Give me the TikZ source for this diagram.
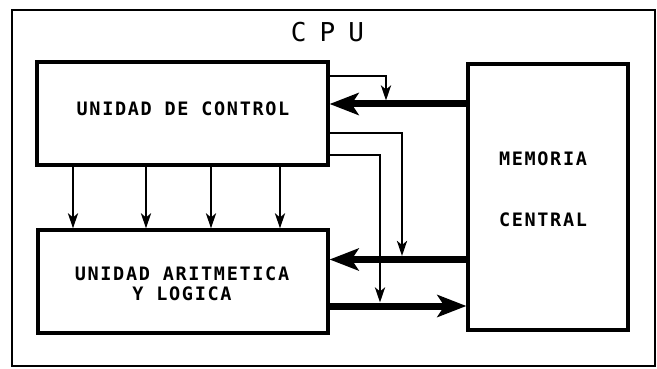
\documentclass[tikz,border=0pt]{standalone}
\usepackage{fontspec}
\usetikzlibrary{arrows.meta}
\newfontfamily\lblfont{DejaVu Sans Mono}[LetterSpace=9]
\newfontfamily\cpufont{DejaVu Sans Mono}[LetterSpace=-10]
\begin{document}
\begin{tikzpicture}[x=1pt,y=-1pt,
  box/.style={draw, line width=3.2pt, inner sep=0pt},
  lbl/.style={font=\lblfont\bfseries\fontsize{18.5}{20}\selectfont, align=center, inner sep=0pt},
  thin/.style={line width=2.8pt, -{Stealth[length=15pt,width=10pt,inset=4pt]}},
  thick/.style={line width=7pt, -{Stealth[length=29pt,width=22pt,inset=7pt]}},
  ]
\useasboundingbox (0,0) rectangle (657,369);
\node[draw, line width=2.8pt, minimum width=643pt, minimum height=356pt, inner sep=0pt] (cpu) at (333.5,188) {};
\node[font=\cpufont\fontsize{26}{28}\selectfont, inner sep=0pt] (cpul) at (327.5,32) {C P U};
\node[box, minimum width=291pt, minimum height=103pt] (uc) at (182.5,113.5) {};
\node[lbl] (ucl) at (183,108.5) {UNIDAD DE CONTROL};
\node[box, minimum width=290pt, minimum height=103pt] (alu) at (183,281.5) {};
\node[lbl] (alul) at (182,283.5) {UNIDAD ARITMETICA\\Y LOGICA};
\node[box, minimum width=160pt, minimum height=266pt] (mem) at (548,197) {};
\node[lbl] (meml1) at (543,158.5) {MEMORIA};
\node[lbl] (meml2) at (543,220) {CENTRAL};
% control lines UC -> ALU
\foreach \xx in {73,146,211,280}
  \draw[thin] (uc.south -| \xx,0) -- (alu.north -| \xx,0);
% thick buses
\draw[thick] (mem.west |- 0,104) -- (uc.east |- 0,104);
\draw[thick] (mem.west |- 0,259.5) -- (alu.east |- 0,259.5);
\draw[thick] (alu.east |- 0,306) -- (mem.west |- 0,306);
% junction points on the buses
\coordinate (j1) at (386,100.5);
\coordinate (j2) at (402,256);
\coordinate (j3) at (380,302.5);
\draw[thin] (uc.east |- 0,76) -| (j1);
\draw[thin] (uc.east |- 0,133) -| (j2);
\draw[thin] (uc.east |- 0,155) -| (j3);
\end{tikzpicture}
\end{document}
